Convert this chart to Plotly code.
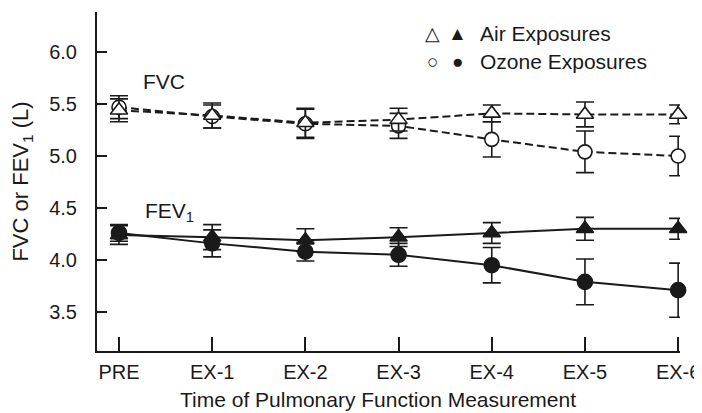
import plotly.graph_objects as go

# Pulmonary function during air vs ozone exposures
times = ['PRE', 'EX-1', 'EX-2', 'EX-3', 'EX-4', 'EX-5', 'EX-6']

fvc_air = [5.44, 5.39, 5.32, 5.35, 5.41, 5.40, 5.40]
fvc_air_err = [0.11, 0.12, 0.14, 0.11, 0.08, 0.12, 0.09]
fvc_ozone = [5.47, 5.38, 5.31, 5.29, 5.16, 5.04, 5.00]
fvc_ozone_err = [0.11, 0.11, 0.14, 0.12, 0.17, 0.20, 0.19]

fev_air = [4.24, 4.22, 4.19, 4.22, 4.26, 4.30, 4.30]
fev_air_err = [0.09, 0.12, 0.11, 0.09, 0.10, 0.11, 0.10]
fev_ozone = [4.26, 4.16, 4.08, 4.05, 3.95, 3.79, 3.71]
fev_ozone_err = [0.08, 0.13, 0.09, 0.11, 0.17, 0.22, 0.26]

ink = '#1a1a1a'
font = 'Liberation Sans, Arial, sans-serif'

def series(y, err, symbol, size, fill, dash):
    return go.Scatter(
        x=times, y=y,
        mode='lines+markers',
        line=dict(color=ink, width=2, dash=dash),
        marker=dict(symbol=symbol, size=size, color=fill,
                    line=dict(color=ink, width=1.6)),
        error_y=dict(type='data', array=err, color=ink, thickness=1.6, width=9),
        cliponaxis=False,
        showlegend=False,
    )

fig = go.Figure()
fig.add_trace(series(fvc_ozone, fvc_ozone_err, 'circle', 14, 'white', '8px,4px'))
fig.add_trace(series(fvc_air, fvc_air_err, 'triangle-up', 15, 'white', '8px,4px'))
fig.add_trace(series(fev_ozone, fev_ozone_err, 'circle', 15, ink, 'solid'))
fig.add_trace(series(fev_air, fev_air_err, 'triangle-up', 15, ink, 'solid'))

def note(text, x, y, anchor='center', size=21):
    return dict(text=text, x=x, y=y, xref='paper', yref='paper',
                xanchor=anchor, yanchor='middle', showarrow=False,
                font=dict(size=size))

# the page body has an 8px margin, so the figure is a bit smaller than the window
fig.update_layout(
    width=694, height=405,
    margin=dict(l=89, r=22, t=4, b=62),
    plot_bgcolor='white', paper_bgcolor='white',
    font=dict(family=font, size=20, color=ink),
    annotations=[
        note('FVC', 0.115, 0.794),
        note('FEV<sub>1</sub>', 0.079, 0.41, anchor='left'),
        note('△', 0.575, 0.938, size=19),
        note('▲', 0.619, 0.938, size=19),
        note('Air Exposures', 0.6535, 0.938, anchor='left'),
        note('○', 0.575, 0.853, size=19),
        note('●', 0.619, 0.853, size=19),
        note('Ozone Exposures', 0.6535, 0.853, anchor='left'),
        # x-axis title, placed by hand (it sits a little left of centre)
        note('Time of Pulmonary Function Measurement', 0.482, -0.143),
    ],
)

fig.update_xaxes(
    type='category', range=[-0.236, 6.02], automargin=False,
    showline=True, linecolor=ink, linewidth=2,
    ticks='inside', ticklen=14, tickwidth=2, tickcolor=ink,
    showgrid=False, zeroline=False,
    ticklabelstandoff=2,
)
fig.update_yaxes(
    range=[3.125, 6.385], automargin=False,
    tickvals=[3.5, 4.0, 4.5, 5.0, 5.5, 6.0], tickformat='.1f',
    showline=True, linecolor=ink, linewidth=2,
    ticks='inside', ticklen=10, tickwidth=2, tickcolor=ink,
    showgrid=False, zeroline=False,
    ticklabelstandoff=14,
    title=dict(text='FVC or FEV<sub>1</sub> (L)', standoff=15,
               font=dict(size=22)),
)

fig.write_html('out.html')
